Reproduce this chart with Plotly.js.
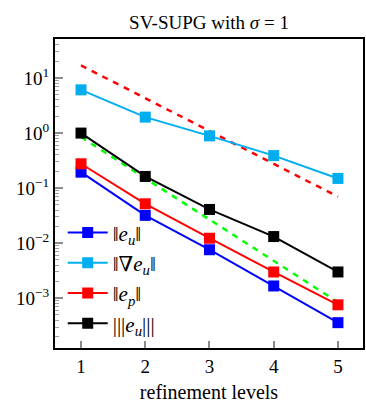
<!DOCTYPE html>
<html>
<head>
<meta charset="utf-8">
<script src="https://cdn.plot.ly/plotly-3.0.1.min.js"></script>
<style>
  html, body { margin: 0; padding: 0; background: #fff; }
  #plot { width: 366px; height: 403px; }
</style>
</head>
<body>
<div id="plot"></div>
<script>
// refinement levels and error norms
var levels = [1, 2, 3, 4, 5];

var errU = [0.195, 0.032, 0.0076, 0.00167, 0.00036];
var errGradU = [6.1, 1.95, 0.89, 0.39, 0.15];
var errP = [0.277, 0.052, 0.0123, 0.0030, 0.00076];
var errTriple = [1.0, 0.163, 0.041, 0.0132, 0.0030];

// reference slopes
var refRed = [17, 4.3, 1.09, 0.276, 0.07];
var refGreen = [0.85, 0.151, 0.0269, 0.00478, 0.00085];

// y tick labels
var yTickVals = [1e-3, 1e-2, 1e-1, 1, 10];
var yTickText = ['10<sup>−3</sup>', '10<sup>−2</sup>', '10<sup>−1</sup>', '10<sup>0</sup>', '10<sup>1</sup>'];

// minor tick positions 2..9 in each decade
var minorVals = [];
for (var p = -4; p <= 1; p++) {
    for (var m = 2; m <= 9; m++) minorVals.push(m * Math.pow(10, p));
}

var serif = 'Liberation Serif, DejaVu Serif, serif';

function series(y, name, color) {
    return {
        x: levels,
        y: y,
        name: name,
        type: 'scatter',
        mode: 'lines+markers',
        line: {color: color, width: 2},
        marker: {symbol: 'square', size: 11, color: color}
    };
}

function refLine(y, color) {
    return {
        x: levels,
        y: y,
        type: 'scatter',
        mode: 'lines',
        showlegend: false,
        hoverinfo: 'skip',
        line: {color: color, width: 2.5, dash: '6px,6px'}
    };
}

var data = [
    refLine(refRed, '#ff0000'),
    refLine(refGreen, '#00ff00'),
    series(errU, '‖<i>e</i><sub><i>u</i></sub>‖', '#0000ff'),
    series(errGradU, '‖∇<i>e</i><sub><i>u</i></sub>‖', '#00aeef'),
    series(errP, '‖<i>e</i><sub><i>p</i></sub>‖', '#ff0000'),
    series(errTriple, '|||<i>e</i><sub><i>u</i></sub>|||', '#000000')
];

var layout = {
    width: 366,
    height: 403,
    margin: {l: 55, r: 3, t: 39, b: 55},
    paper_bgcolor: '#fff',
    plot_bgcolor: '#fff',
    font: {family: serif, size: 18, color: '#000'},
    title: {
        text: 'SV-SUPG with <i>σ</i> = 1',
        font: {family: serif, size: 19, color: '#000'},
        x: 0.5, xref: 'paper',
        y: 0.962, yref: 'container'
    },
    showlegend: true,
    legend: {
        x: 0.025, y: 0.012,
        xanchor: 'left', yanchor: 'bottom',
        bgcolor: 'rgba(255,255,255,0)',
        font: {family: serif, size: 21, color: '#000'},
        tracegroupgap: 0,
        itemwidth: 40
    },
    xaxis: {
        range: [0.595, 5.39],
        tickmode: 'array',
        tickvals: levels,
        ticks: 'inside',
        ticklen: 7,
        tickwidth: 1.5,
        tickcolor: '#8c8c8c',
        showgrid: false,
        zeroline: false,
        showline: true,
        linecolor: '#000',
        linewidth: 2,
        mirror: true,
        tickfont: {family: serif, size: 19},
        title: {text: 'refinement levels', font: {family: serif, size: 20}, standoff: 10}
    },
    yaxis: {
        type: 'log',
        range: [-3.904, 1.709],
        tickmode: 'array',
        tickvals: yTickVals,
        ticktext: yTickText,
        ticks: 'inside',
        ticklen: 8,
        tickwidth: 1.5,
        tickcolor: '#8c8c8c',
        minor: {tickmode: 'array', tickvals: minorVals, ticks: 'inside', ticklen: 4, tickwidth: 1, tickcolor: '#a0a0a0', showgrid: false},
        showgrid: false,
        zeroline: false,
        showline: true,
        linecolor: '#000',
        linewidth: 2,
        mirror: true,
        tickfont: {family: serif, size: 19}
    }
};

Plotly.newPlot('plot', data, layout, {displayModeBar: false});
</script>
</body>
</html>
